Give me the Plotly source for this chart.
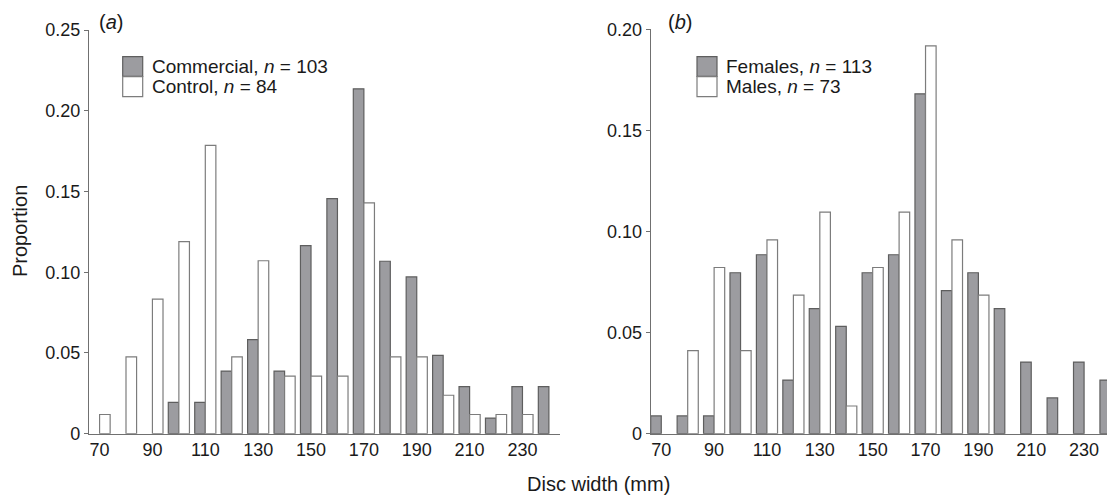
import plotly.graph_objects as go

# ---- data ----
bins = [70, 80, 90, 100, 110, 120, 130, 140, 150, 160, 170, 180, 190, 200, 210, 220, 230, 240]

commercial = [None, None, None, 0.0194, 0.0194, 0.0388, 0.0583, 0.0388, 0.1165, 0.1456,
              0.2136, 0.1068, 0.0971, 0.0485, 0.0291, 0.0097, 0.0291, 0.0291]
control = [0.0119, 0.0476, 0.0833, 0.1190, 0.1786, 0.0476, 0.1071, 0.0357, 0.0357, 0.0357,
           0.1429, 0.0476, 0.0476, 0.0238, 0.0119, 0.0119, 0.0119, None]

females = [0.0088, 0.0088, 0.0088, 0.0796, 0.0885, 0.0265, 0.0619, 0.0531, 0.0796, 0.0885,
           0.1681, 0.0708, 0.0796, 0.0619, 0.0354, 0.0177, 0.0354, 0.0265]
males = [None, 0.0411, 0.0822, 0.0411, 0.0959, 0.0685, 0.1096, 0.0137, 0.0822, 0.1096,
         0.1918, 0.0959, 0.0685, None, None, None, None, None]

series_names_a = ["Commercial, <i>n</i> = 103", "Control, <i>n</i> = 84"]
series_names_b = ["Females, <i>n</i> = 113", "Males, <i>n</i> = 73"]

x_ticks = [70, 90, 110, 130, 150, 170, 190, 210, 230]
y_ticks_a = [0, 0.05, 0.10, 0.15, 0.20, 0.25]
y_labels_a = ["0", "0.05", "0.10", "0.15", "0.20", "0.25"]
y_ticks_b = [0, 0.05, 0.10, 0.15, 0.20]
y_labels_b = ["0", "0.05", "0.10", "0.15", "0.20"]

# ---- style ----
FONT = "Liberation Sans, Arial, Helvetica, sans-serif"
TXT = "#1a1a1a"
GRAY_FILL = "#9c9ca0"
GRAY_LINE = "#5e5e5e"
WHITE_LINE = "#7c7c7c"
AXIS = "#707070"

# page body has an 8px margin; the figure is sized to fill the 1115x500 window
OFF = 8
W, H = 1115 - OFF, 500 - OFF


def px_x(p):
    return (p - OFF) / W


def px_y(p):
    return 1 - (p - OFF) / H


fig = go.Figure()

styles = [
    dict(color=GRAY_FILL, line=dict(color=GRAY_LINE, width=1.2)),
    dict(color="white", line=dict(color=WHITE_LINE, width=1.2)),
]

for name, vals, st in zip(series_names_a, [commercial, control], styles):
    fig.add_trace(go.Bar(x=bins, y=vals, name=name, marker=st,
                         xaxis="x", yaxis="y", showlegend=False))
for name, vals, st in zip(series_names_b, [females, males], styles):
    fig.add_trace(go.Bar(x=bins, y=vals, name=name, marker=st,
                         xaxis="x2", yaxis="y2", showlegend=False))

xcommon = dict(showline=True, linecolor=AXIS, linewidth=1.2, showgrid=False, zeroline=False,
               ticks="", tickvals=x_ticks, ticktext=[str(v) for v in x_ticks],
               tickfont=dict(size=18, color=TXT, family=FONT), automargin=False)
ycommon = dict(showline=True, linecolor=AXIS, linewidth=1.2, showgrid=False, zeroline=False,
               ticks="outside", ticklen=4, tickcolor=AXIS, tickwidth=1.2,
               tickfont=dict(size=18, color=TXT, family=FONT), automargin=False)

# ---- legend (swatches + text), drawn in paper space ----
shapes = []
annotations = []
legend_specs = [
    (122.7, 150.0, series_names_a),
    (697.0, 723.5, series_names_b),
]
sw_rows = [(56.7, 76.4), (76.7, 96.7)]
for sw_x, txt_x, names in legend_specs:
    for (top, bot), name, st in zip(sw_rows, names, styles):
        shapes.append(dict(type="rect", xref="paper", yref="paper",
                           x0=px_x(sw_x), x1=px_x(sw_x + 20),
                           y0=px_y(bot), y1=px_y(top),
                           fillcolor=st["color"],
                           line=dict(color=st["line"]["color"], width=1.2),
                           layer="above"))
        annotations.append(dict(text=name, x=px_x(txt_x), y=px_y((top + bot) / 2),
                                xref="paper", yref="paper", showarrow=False,
                                xanchor="left", yanchor="middle",
                                font=dict(size=19, family=FONT, color=TXT)))

annotations += [
    dict(text="(<i>a</i>)", x=px_x(110.5), y=px_y(22.5), xref="paper", yref="paper",
         showarrow=False, xanchor="center", yanchor="middle", font=dict(size=20)),
    dict(text="(<i>b</i>)", x=px_x(680), y=px_y(22.5), xref="paper", yref="paper",
         showarrow=False, xanchor="center", yanchor="middle", font=dict(size=20)),
    dict(text="Proportion", x=px_x(20), y=px_y(231), xref="paper", yref="paper",
         showarrow=False, xanchor="center", yanchor="middle", textangle=-90,
         font=dict(size=20)),
    dict(text="Disc width (mm)", x=px_x(598), y=px_y(484), xref="paper", yref="paper",
         showarrow=False, xanchor="center", yanchor="middle", font=dict(size=20)),
]

fig.update_layout(
    width=W, height=H,
    margin=dict(l=0, r=0, t=0, b=0),
    paper_bgcolor="white", plot_bgcolor="white",
    font=dict(family=FONT, size=18, color=TXT),
    barmode="group", bargap=0.2, bargroupgap=0,
    xaxis=dict(domain=[px_x(89), px_x(560)], range=[66, 244.2], anchor="y", **xcommon),
    yaxis=dict(domain=[px_y(433.7), px_y(30)], range=[0, 0.25], anchor="x",
               tickvals=y_ticks_a, ticktext=y_labels_a, **ycommon),
    xaxis2=dict(domain=[px_x(650.7), 1.0], range=[66, 241.7], anchor="y2", **xcommon),
    yaxis2=dict(domain=[px_y(433.7), px_y(29.3)], range=[0, 0.20], anchor="x2",
                tickvals=y_ticks_b, ticktext=y_labels_b, **ycommon),
    showlegend=False,
    shapes=shapes,
    annotations=annotations,
)

fig.write_html("out.html")
